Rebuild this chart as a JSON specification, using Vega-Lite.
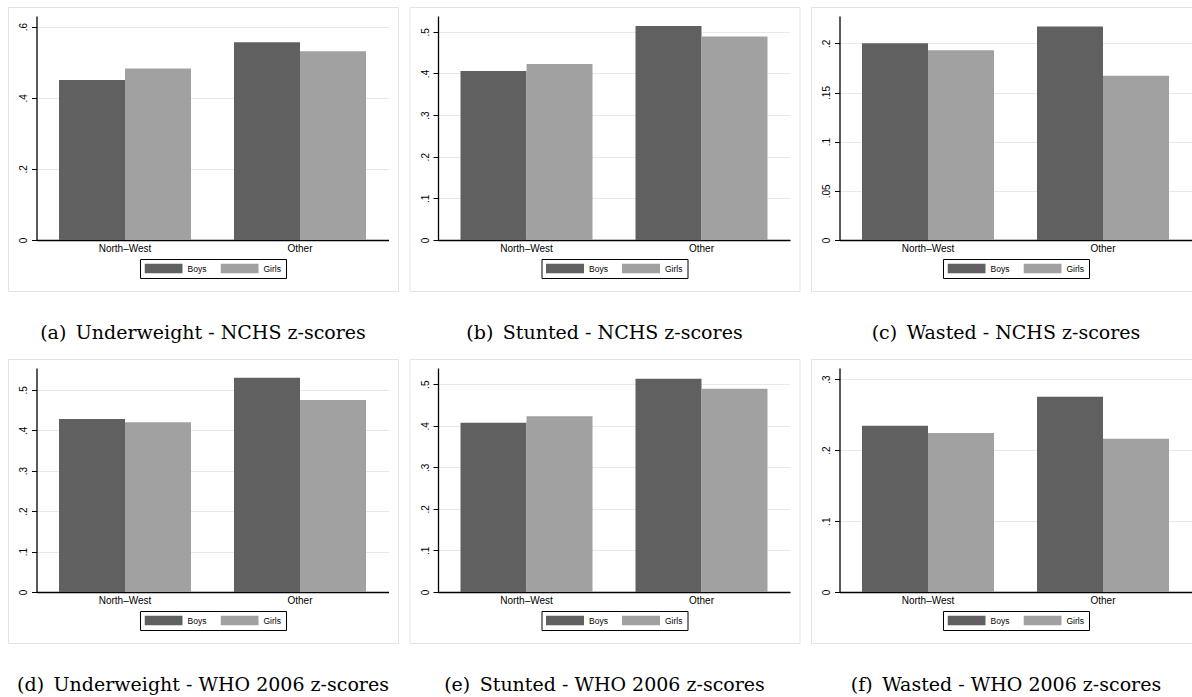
{
  "$schema": "https://vega.github.io/schema/vega-lite/v6.json",
  "padding": {"left": 7, "top": 6, "right": 0, "bottom": 0},
  "background": "white",
  "spacing": 15,
  "config": {
    "view": {"stroke": "#e3e3e3", "strokeWidth": 1},
    "axis": {"domainColor": "black", "tickColor": "black", "labelColor": "black", "labelFont": "Liberation Sans", "labelFontSize": 10, "gridColor": "#e8e8e8", "gridWidth": 1, "title": null},
    "axisX": {"offset": -51, "ticks": false, "grid": false, "labelPadding": 3, "labelAngle": 0, "domainWidth": 1.3},
    "axisY": {"tickSize": 5, "tickWidth": 1, "labelAngle": -90, "labelPadding": 3, "domainWidth": 1.3, "labelExpr": "datum.value == 0 ? '0' : replace(format(datum.value, '.2~f'), '0.', '.')"},
    "legend": {"orient": "none", "legendX": 132, "legendY": 252, "direction": "horizontal", "strokeColor": "black", "padding": 4.5, "labelFont": "Liberation Sans", "labelFontSize": 8.5, "labelColor": "black", "labelOffset": 5, "columnPadding": 14, "clipHeight": 10, "symbolType": "M-1,-0.26H1V0.26H-1Z", "symbolSize": 1444, "symbolStrokeWidth": 0, "symbolOpacity": 1},
    "title": {"orient": "bottom", "font": "DejaVu Serif", "fontSize": 19, "fontWeight": "normal", "color": "black", "offset": 32.5, "anchor": "middle"}
  },
  "datasets": {
    "d": [
      {"panel": "a", "region": "North–West", "sex": "Boys", "value": 0.450},
      {"panel": "a", "region": "North–West", "sex": "Girls", "value": 0.482},
      {"panel": "a", "region": "Other", "sex": "Boys", "value": 0.556},
      {"panel": "a", "region": "Other", "sex": "Girls", "value": 0.531},
      {"panel": "b", "region": "North–West", "sex": "Boys", "value": 0.406},
      {"panel": "b", "region": "North–West", "sex": "Girls", "value": 0.423},
      {"panel": "b", "region": "Other", "sex": "Boys", "value": 0.514},
      {"panel": "b", "region": "Other", "sex": "Girls", "value": 0.489},
      {"panel": "c", "region": "North–West", "sex": "Boys", "value": 0.200},
      {"panel": "c", "region": "North–West", "sex": "Girls", "value": 0.193},
      {"panel": "c", "region": "Other", "sex": "Boys", "value": 0.217},
      {"panel": "c", "region": "Other", "sex": "Girls", "value": 0.167},
      {"panel": "d", "region": "North–West", "sex": "Boys", "value": 0.428},
      {"panel": "d", "region": "North–West", "sex": "Girls", "value": 0.420},
      {"panel": "d", "region": "Other", "sex": "Boys", "value": 0.530},
      {"panel": "d", "region": "Other", "sex": "Girls", "value": 0.475},
      {"panel": "e", "region": "North–West", "sex": "Boys", "value": 0.407},
      {"panel": "e", "region": "North–West", "sex": "Girls", "value": 0.423},
      {"panel": "e", "region": "Other", "sex": "Boys", "value": 0.513},
      {"panel": "e", "region": "Other", "sex": "Girls", "value": 0.489},
      {"panel": "f", "region": "North–West", "sex": "Boys", "value": 0.234},
      {"panel": "f", "region": "North–West", "sex": "Girls", "value": 0.224},
      {"panel": "f", "region": "Other", "sex": "Boys", "value": 0.275},
      {"panel": "f", "region": "Other", "sex": "Girls", "value": 0.216}
    ]
  },
  "resolve": {"scale": {"color": "independent"}, "legend": {"color": "independent"}},
  "vconcat": [
    {
      "hconcat": [
        {
          "width": 390, "height": 284,
          "title": "(a)\u2002Underweight - NCHS z-scores",
          "data": {"name": "d"},
          "transform": [{"filter": "datum.panel == 'a'"}],
          "layer": [
            {"mark": {"type": "bar"},
             "encoding": {
              "x": {"field": "region", "type": "nominal", "sort": ["North–West", "Other"], "scale": {"range": [28.5, 380.5], "paddingInner": 0.2457, "paddingOuter": 0.1286}},
              "xOffset": {"field": "sex", "type": "nominal", "sort": ["Boys", "Girls"]},
              "y": {"field": "value", "type": "quantitative", "scale": {"domain": [0, 0.630], "range": [233, 9], "nice": false}, "axis": {"orient": "left", "values": [0, 0.2, 0.4, 0.6], "grid": true, "domain": false, "ticks": false, "labels": false, "offset": 0}},
              "color": {"field": "sex", "type": "nominal", "title": null, "scale": {"domain": ["Boys", "Girls"], "range": ["#606060", "#a1a1a1"]}}
             }},
            {"mark": {"type": "rule", "opacity": 0},
             "encoding": {
              "y": {"field": "value", "type": "quantitative", "axis": {"orient": "left", "values": [0, 0.2, 0.4, 0.6], "grid": false, "offset": -28.5}}
             }}
          ],
          "resolve": {"axis": {"y": "independent"}}
        },
        {
          "width": 390, "height": 284,
          "title": "(b)\u2002Stunted - NCHS z-scores",
          "data": {"name": "d"},
          "transform": [{"filter": "datum.panel == 'b'"}],
          "layer": [
            {"mark": {"type": "bar"},
             "encoding": {
              "x": {"field": "region", "type": "nominal", "sort": ["North–West", "Other"], "scale": {"range": [28.5, 380.5], "paddingInner": 0.2457, "paddingOuter": 0.1286}},
              "xOffset": {"field": "sex", "type": "nominal", "sort": ["Boys", "Girls"]},
              "y": {"field": "value", "type": "quantitative", "scale": {"domain": [0, 0.538], "range": [233, 9], "nice": false}, "axis": {"orient": "left", "values": [0, 0.1, 0.2, 0.3, 0.4, 0.5], "grid": true, "domain": false, "ticks": false, "labels": false, "offset": 0}},
              "color": {"field": "sex", "type": "nominal", "title": null, "scale": {"domain": ["Boys", "Girls"], "range": ["#606060", "#a1a1a1"]}}
             }},
            {"mark": {"type": "rule", "opacity": 0},
             "encoding": {
              "y": {"field": "value", "type": "quantitative", "axis": {"orient": "left", "values": [0, 0.1, 0.2, 0.3, 0.4, 0.5], "grid": false, "offset": -28.5}}
             }}
          ],
          "resolve": {"axis": {"y": "independent"}}
        },
        {
          "width": 390, "height": 284,
          "title": "(c)\u2002Wasted - NCHS z-scores",
          "data": {"name": "d"},
          "transform": [{"filter": "datum.panel == 'c'"}],
          "layer": [
            {"mark": {"type": "bar"},
             "encoding": {
              "x": {"field": "region", "type": "nominal", "sort": ["North–West", "Other"], "scale": {"range": [28.5, 380.5], "paddingInner": 0.2457, "paddingOuter": 0.1286}},
              "xOffset": {"field": "sex", "type": "nominal", "sort": ["Boys", "Girls"]},
              "y": {"field": "value", "type": "quantitative", "scale": {"domain": [0, 0.2278], "range": [233, 9], "nice": false}, "axis": {"orient": "left", "values": [0, 0.05, 0.1, 0.15, 0.2], "grid": true, "domain": false, "ticks": false, "labels": false, "offset": 0}},
              "color": {"field": "sex", "type": "nominal", "title": null, "scale": {"domain": ["Boys", "Girls"], "range": ["#606060", "#a1a1a1"]}}
             }},
            {"mark": {"type": "rule", "opacity": 0},
             "encoding": {
              "y": {"field": "value", "type": "quantitative", "axis": {"orient": "left", "values": [0, 0.05, 0.1, 0.15, 0.2], "grid": false, "offset": -28.5}}
             }}
          ],
          "resolve": {"axis": {"y": "independent"}}
        }
      ],
      "spacing": 9.5,
      "resolve": {"scale": {"color": "independent"}, "legend": {"color": "independent"}}
    },
    {
      "hconcat": [
        {
          "width": 390, "height": 284,
          "title": "(d)\u2002Underweight - WHO 2006 z-scores",
          "data": {"name": "d"},
          "transform": [{"filter": "datum.panel == 'd'"}],
          "layer": [
            {"mark": {"type": "bar"},
             "encoding": {
              "x": {"field": "region", "type": "nominal", "sort": ["North–West", "Other"], "scale": {"range": [28.5, 380.5], "paddingInner": 0.2457, "paddingOuter": 0.1286}},
              "xOffset": {"field": "sex", "type": "nominal", "sort": ["Boys", "Girls"]},
              "y": {"field": "value", "type": "quantitative", "scale": {"domain": [0, 0.554], "range": [233, 9], "nice": false}, "axis": {"orient": "left", "values": [0, 0.1, 0.2, 0.3, 0.4, 0.5], "grid": true, "domain": false, "ticks": false, "labels": false, "offset": 0}},
              "color": {"field": "sex", "type": "nominal", "title": null, "scale": {"domain": ["Boys", "Girls"], "range": ["#606060", "#a1a1a1"]}}
             }},
            {"mark": {"type": "rule", "opacity": 0},
             "encoding": {
              "y": {"field": "value", "type": "quantitative", "axis": {"orient": "left", "values": [0, 0.1, 0.2, 0.3, 0.4, 0.5], "grid": false, "offset": -28.5}}
             }}
          ],
          "resolve": {"axis": {"y": "independent"}}
        },
        {
          "width": 390, "height": 284,
          "title": "(e)\u2002Stunted - WHO 2006 z-scores",
          "data": {"name": "d"},
          "transform": [{"filter": "datum.panel == 'e'"}],
          "layer": [
            {"mark": {"type": "bar"},
             "encoding": {
              "x": {"field": "region", "type": "nominal", "sort": ["North–West", "Other"], "scale": {"range": [28.5, 380.5], "paddingInner": 0.2457, "paddingOuter": 0.1286}},
              "xOffset": {"field": "sex", "type": "nominal", "sort": ["Boys", "Girls"]},
              "y": {"field": "value", "type": "quantitative", "scale": {"domain": [0, 0.539], "range": [233, 9], "nice": false}, "axis": {"orient": "left", "values": [0, 0.1, 0.2, 0.3, 0.4, 0.5], "grid": true, "domain": false, "ticks": false, "labels": false, "offset": 0}},
              "color": {"field": "sex", "type": "nominal", "title": null, "scale": {"domain": ["Boys", "Girls"], "range": ["#606060", "#a1a1a1"]}}
             }},
            {"mark": {"type": "rule", "opacity": 0},
             "encoding": {
              "y": {"field": "value", "type": "quantitative", "axis": {"orient": "left", "values": [0, 0.1, 0.2, 0.3, 0.4, 0.5], "grid": false, "offset": -28.5}}
             }}
          ],
          "resolve": {"axis": {"y": "independent"}}
        },
        {
          "width": 390, "height": 284,
          "title": "(f)\u2002Wasted - WHO 2006 z-scores",
          "data": {"name": "d"},
          "transform": [{"filter": "datum.panel == 'f'"}],
          "layer": [
            {"mark": {"type": "bar"},
             "encoding": {
              "x": {"field": "region", "type": "nominal", "sort": ["North–West", "Other"], "scale": {"range": [28.5, 380.5], "paddingInner": 0.2457, "paddingOuter": 0.1286}},
              "xOffset": {"field": "sex", "type": "nominal", "sort": ["Boys", "Girls"]},
              "y": {"field": "value", "type": "quantitative", "scale": {"domain": [0, 0.3155], "range": [233, 9], "nice": false}, "axis": {"orient": "left", "values": [0, 0.1, 0.2, 0.3], "grid": true, "domain": false, "ticks": false, "labels": false, "offset": 0}},
              "color": {"field": "sex", "type": "nominal", "title": null, "scale": {"domain": ["Boys", "Girls"], "range": ["#606060", "#a1a1a1"]}}
             }},
            {"mark": {"type": "rule", "opacity": 0},
             "encoding": {
              "y": {"field": "value", "type": "quantitative", "axis": {"orient": "left", "values": [0, 0.1, 0.2, 0.3], "grid": false, "offset": -28.5}}
             }}
          ],
          "resolve": {"axis": {"y": "independent"}}
        }
      ],
      "spacing": 9.5,
      "resolve": {"scale": {"color": "independent"}, "legend": {"color": "independent"}}
    }
  ]
}
